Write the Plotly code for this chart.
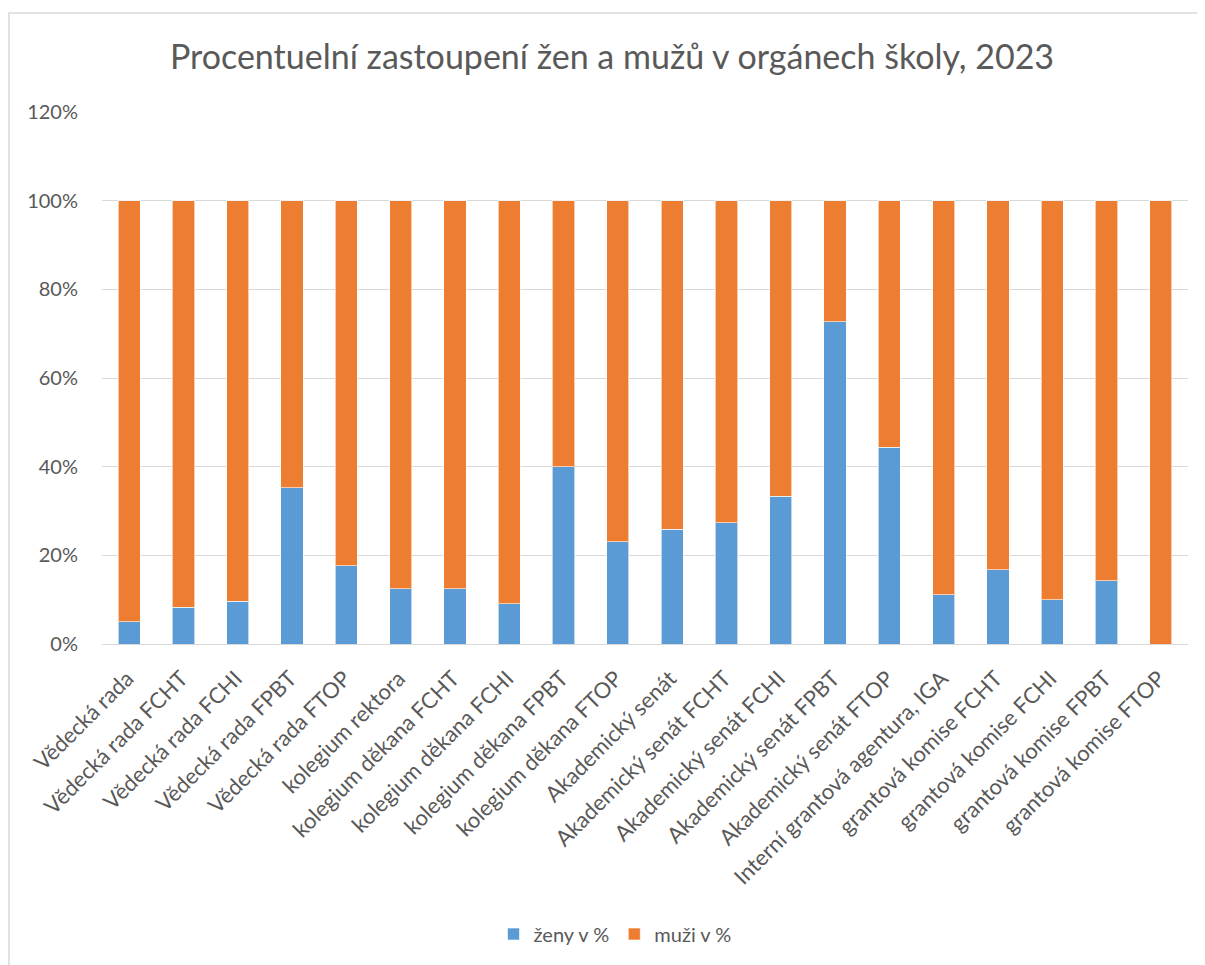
import plotly.graph_objects as go

categories = [
    "Vědecká rada", "Vědecká rada FCHT", "Vědecká rada FCHI", "Vědecká rada FPBT",
    "Vědecká rada FTOP", "kolegium rektora", "kolegium děkana FCHT", "kolegium děkana FCHI",
    "kolegium děkana FPBT", "kolegium děkana FTOP", "Akademický senát", "Akademický senát FCHT",
    "Akademický senát FCHI", "Akademický senát FPBT", "Akademický senát FTOP",
    "Interní grantová agentura, IGA", "grantová komise FCHT", "grantová komise FCHI",
    "grantová komise FPBT", "grantová komise FTOP",
]
zeny = [0.05, 0.083, 0.097, 0.352, 0.176, 0.125, 0.125, 0.091, 0.40, 0.231,
        0.259, 0.273, 0.333, 0.727, 0.444, 0.111, 0.167, 0.10, 0.143, 0.0]
muzi = [1 - z for z in zeny]
y_ticks = [0, 0.2, 0.4, 0.6, 0.8, 1.0, 1.2]
y_ticktext = ["0%", "20%", "40%", "60%", "80%", "100%", "120%"]

FONT = "Lato"
TXT = "#595959"
W, H = 1197, 957  # page body has an 8px margin

fig = go.Figure()
fig.add_trace(go.Bar(x=categories, y=zeny, name="ženy v %",
                     marker=dict(color="#5B9BD5", line=dict(color="rgba(255,255,255,0.6)", width=1))))
fig.add_trace(go.Bar(x=categories, y=muzi, name="muži v %",
                     marker=dict(color="#ED7D31", line=dict(color="rgba(255,255,255,0.6)", width=1))))

fig.update_layout(
    barmode="stack",
    bargap=0.59,
    width=W, height=H,
    margin=dict(l=94, r=17, t=104, b=321),
    paper_bgcolor="white", plot_bgcolor="white",
    font=dict(family=FONT, color=TXT, size=20),
    title=dict(text="Procentuelní zastoupení žen a mužů v orgánech školy, 2023",
               x=604/W, xref="container", xanchor="center",
               y=1-49/H, yref="container", yanchor="middle",
               font=dict(family=FONT, size=34, color=TXT)),
    legend=dict(orientation="h", x=607/W, xref="container", xanchor="center",
                y=1-926/H, yref="container", yanchor="middle",
                font=dict(size=20, color=TXT), itemwidth=30, traceorder="normal"),
    showlegend=True,
)
fig.update_yaxes(range=[0, 1.2], tickvals=y_ticks, ticktext=y_ticktext,
                 showgrid=True, gridcolor="#D9D9D9", gridwidth=1, zeroline=False,
                 ticks="", ticklabelstandoff=23, tickfont=dict(size=20, color=TXT))
fig.update_xaxes(tickangle=-45, showline=True, linecolor="#D9D9D9", linewidth=1,
                 ticks="", ticklabelshift=-2, ticklabelstandoff=12,
                 tickfont=dict(size=22, color=TXT))

fig.add_shape(type="rect", xref="paper", yref="paper",
              x0=(1-94)/1086, x1=(1230-94)/1086, y0=(636-1000)/532, y1=(636-5)/532,
              line=dict(color="#D9D9D9", width=1.5), fillcolor="rgba(0,0,0,0)", layer="below")

fig.write_html("out.html")
